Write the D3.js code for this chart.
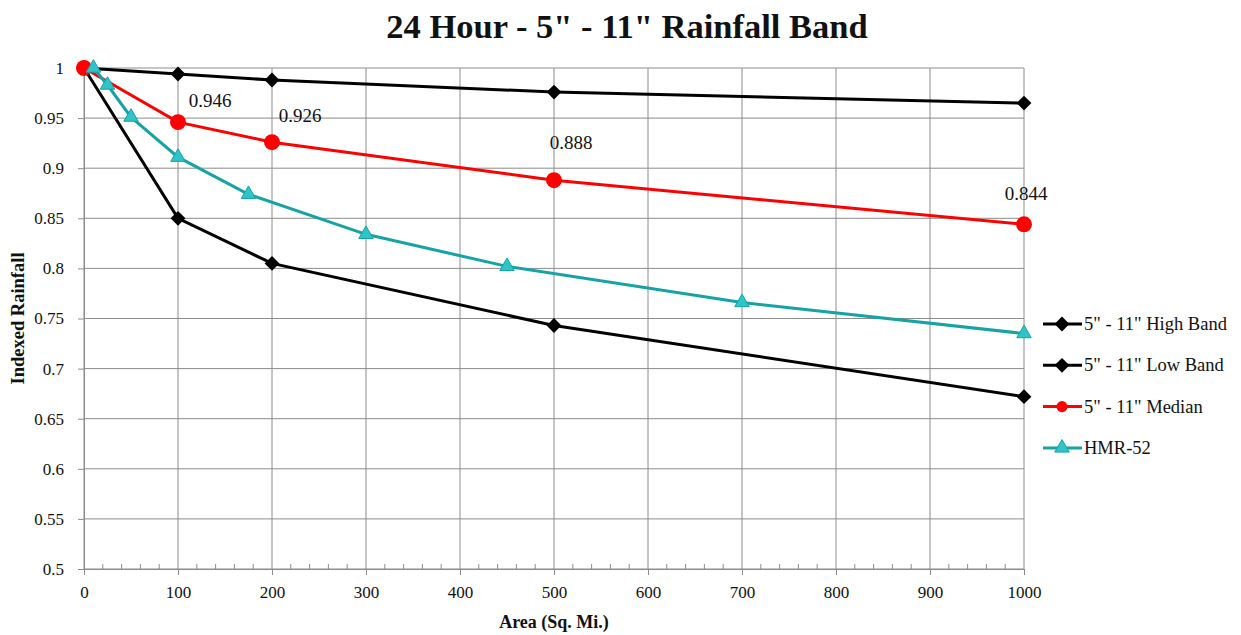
<!DOCTYPE html>
<html><head><meta charset="utf-8">
<script src="https://cdn.jsdelivr.net/npm/d3@7"></script>
<style>body{margin:0;background:#fff}svg{display:block}</style>
</head><body><svg id="c" width="1241" height="635"></svg>
<script>
const title = "24 Hour - 5\" - 11\" Rainfall Band";
const xTicks = [0,100,200,300,400,500,600,700,800,900,1000];
const yTicks = [0.5,0.55,0.6,0.65,0.7,0.75,0.8,0.85,0.9,0.95,1];
const highX = [0,100,200,500,1000];
const highY = [1,0.994,0.988,0.976,0.965];
const lowX = [0,100,200,500,1000];
const lowY = [1,0.850,0.805,0.743,0.672];
const medX = [0,100,200,500,1000];
const medY = [1,0.946,0.926,0.888,0.844];
const hmrX = [10,25,50,100,175,300,450,700,1000];
const hmrY = [1,0.983,0.951,0.911,0.874,0.834,0.802,0.766,0.735];
const medLabels = ["","0.946","0.926","0.888","0.844"];
const seriesNames = ["5\" - 11\" High Band","5\" - 11\" Low Band","5\" - 11\" Median","HMR-52"];

const FONT = "'Liberation Serif', 'Times New Roman', serif";
const svg = d3.select("#c");
const x = d3.scaleLinear().domain([0,1000]).range([84,1024]);
const y = d3.scaleLinear().domain([0.5,1]).range([569,68]);
const grid = "#8c8c8c";

svg.append("g").selectAll("line").data(yTicks).join("line")
  .attr("x1",x(0)).attr("x2",x(1000)).attr("y1",d=>y(d)).attr("y2",d=>y(d))
  .attr("stroke",grid).attr("stroke-width",1);
svg.append("g").selectAll("line").data(xTicks).join("line")
  .attr("x1",d=>x(d)).attr("x2",d=>x(d)).attr("y1",y(1)).attr("y2",y(0.5))
  .attr("stroke",grid).attr("stroke-width",1);

const xa = svg.append("g").attr("transform",`translate(0,${y(0.5)})`)
  .call(d3.axisBottom(x).tickValues(xTicks).tickSize(6).tickPadding(11).tickFormat(d3.format("d")));
xa.attr("font-family",FONT);
xa.select(".domain").attr("stroke",grid);
xa.selectAll(".tick line").attr("stroke",grid);
xa.selectAll("text").attr("font-size",17).attr("font-family",FONT).attr("fill","#111");
const minor = d3.range(0,1001,20).filter(d=>d%100!==0);
svg.append("g").selectAll("line").data(minor).join("line")
  .attr("x1",d=>x(d)).attr("x2",d=>x(d)).attr("y1",y(0.5)).attr("y2",y(0.5)-5)
  .attr("stroke",grid);

const ya = svg.append("g").attr("transform",`translate(${x(0)},0)`)
  .call(d3.axisLeft(y).tickValues(yTicks).tickSize(6).tickPadding(14).tickFormat(d=>String(+d.toFixed(2))));
ya.attr("font-family",FONT);
ya.select(".domain").attr("stroke",grid);
ya.selectAll(".tick line").attr("stroke",grid);
ya.selectAll("text").attr("font-size",17).attr("font-family",FONT).attr("fill","#111");

svg.append("text").attr("x",627).attr("y",38).attr("text-anchor","middle").attr("font-family",FONT)
  .attr("font-size",34.5).attr("font-weight","bold").attr("fill","#111").text(title);
svg.append("text").attr("x",554).attr("y",628).attr("text-anchor","middle").attr("font-family",FONT)
  .attr("font-size",18).attr("font-weight","bold").attr("fill","#111").text("Area (Sq. Mi.)");
svg.append("text").attr("transform",`translate(24,${(y(0.5)+y(1))/2}) rotate(-90)`).attr("text-anchor","middle")
  .attr("font-family",FONT).attr("font-size",18.5).attr("font-weight","bold").attr("fill","#111").text("Indexed Rainfall");

const line = d3.line().x(d=>x(d[0])).y(d=>y(d[1]));
const series = [
  {xs:highX, ys:highY, color:"#000", marker:"diamond", fill:"#000"},
  {xs:lowX, ys:lowY, color:"#000", marker:"diamond", fill:"#000"},
  {xs:medX, ys:medY, color:"#ff0000", marker:"circle", fill:"#ff0000"},
  {xs:hmrX, ys:hmrY, color:"#16a3a6", marker:"triangle", fill:"#2ec4c8"}
];
const sym = {diamond:d3.symbol().type(d3.symbolDiamond2).size(140)(),
  circle:d3.symbol().type(d3.symbolCircle).size(200)(),
  triangle:d3.symbol().type(d3.symbolTriangle2).size(150)()};

series.forEach(s=>{
  const pts = s.xs.map((v,i)=>[v,s.ys[i]]);
  svg.append("path").attr("d",line(pts)).attr("fill","none").attr("stroke",s.color).attr("stroke-width",3);
});
series.forEach(s=>{
  const pts = s.xs.map((v,i)=>[v,s.ys[i]]);
  svg.append("g").selectAll("path").data(pts).join("path")
    .attr("d",sym[s.marker]).attr("transform",d=>`translate(${x(d[0])},${y(d[1])})`)
    .attr("fill",s.fill).attr("stroke",s.marker==="triangle"?s.color:"none").attr("stroke-width",1);
});

const labelOffsets = [[0,0],[32,-15],[28,-20],[17,-31],[2,-24]];
svg.append("g").selectAll("text").data(medX.map((v,i)=>[v,medY[i],medLabels[i],labelOffsets[i]]).filter(d=>d[2]))
  .join("text").attr("x",d=>x(d[0])+d[3][0]).attr("y",d=>y(d[1])+d[3][1]).attr("font-family",FONT)
  .attr("text-anchor","middle").attr("font-size",19).attr("fill","#111").text(d=>d[2]);

const lg = svg.append("g");
seriesNames.forEach((n,i)=>{
  const s = series[i];
  const yy = 324 + i*41.3;
  lg.append("line").attr("x1",1043).attr("x2",1082).attr("y1",yy).attr("y2",yy).attr("stroke",s.color).attr("stroke-width",3);
  lg.append("path").attr("d",sym[s.marker]).attr("transform",`translate(1062,${yy})${s.marker==="circle"?" scale(0.7)":""}`)
    .attr("fill",s.fill).attr("stroke",s.marker==="triangle"?s.color:"none");
  lg.append("text").attr("x",1084).attr("y",yy+6).attr("font-family",FONT).attr("font-size",18.5).attr("fill","#111").text(n);
});
</script></body></html>
